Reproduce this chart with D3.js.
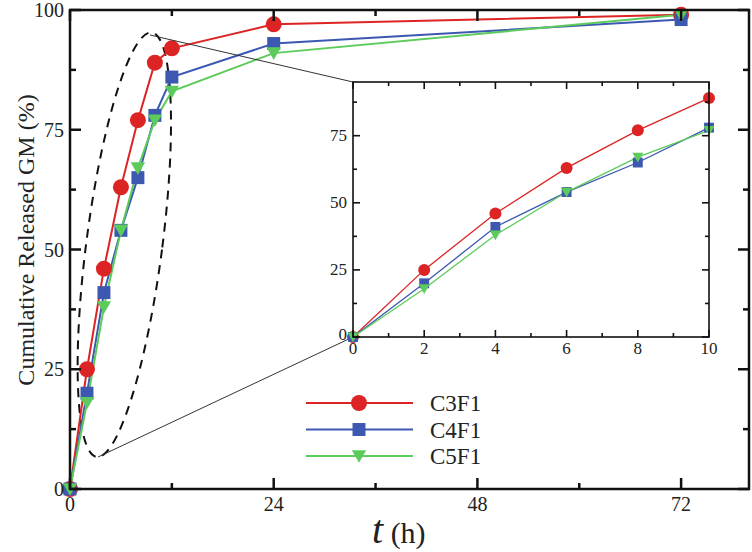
<!DOCTYPE html>
<html><head><meta charset="utf-8">
<script src="https://cdn.jsdelivr.net/npm/d3@7"></script>
<style>body{margin:0;background:#fff}svg{display:block}text{font-family:"Liberation Serif","Times New Roman",serif;fill:#222}</style>
</head><body>
<script>
const times = [0, 2, 4, 6, 8, 10, 12, 24, 72];
const c3f1 = [0, 25, 46, 63, 77, 89, 92, 97, 99];
const c4f1 = [0, 20, 41, 54, 65, 78, 86, 93, 98];
const c5f1 = [0, 18, 38, 54, 67, 77, 83, 91, 99];
const seriesNames = ["C3F1", "C4F1", "C5F1"];
const colors = ["#dd2424", "#3c58b0", "#5ccb5c"];
const symbols = ["circle", "square", "triangle"];
const xTicks = [0, 24, 48, 72];
const yTicks = [0, 25, 50, 75, 100];
const insetXTicks = [0, 2, 4, 6, 8, 10];
const insetYTicks = [0, 25, 50, 75];
// zoom ellipse annotation (data units)
const ellipseCenter = [6.4, 51];

const W = 752, H = 552;
const svg = d3.select("body").append("svg").attr("width", W).attr("height", H);

const m = {l: 70, r: 749, t: 10, b: 489};
const x = d3.scaleLinear().domain([0, 80]).range([m.l, m.r]);
const y = d3.scaleLinear().domain([0, 100]).range([m.b, m.t]);

const series = [c3f1, c4f1, c5f1].map((v, i) => ({name: seriesNames[i], color: colors[i], sym: symbols[i], vals: times.map((t, j) => [t, v[j]])}));

function marker(g, sym, cx, cy, s, color) {
  if (sym === "circle") g.append("circle").attr("cx", cx).attr("cy", cy).attr("r", s).attr("fill", color);
  else if (sym === "square") g.append("rect").attr("x", cx - s * 0.9).attr("y", cy - s * 0.9).attr("width", s * 1.8).attr("height", s * 1.8).attr("fill", color);
  else g.append("path").attr("d", `M${cx - s},${cy - s * 0.8} L${cx + s},${cy - s * 0.8} L${cx},${cy + s * 0.95} Z`).attr("fill", color);
}

// ellipse
const ecx = x(ellipseCenter[0]), ecy = y(ellipseCenter[1]);
svg.append("ellipse").attr("cx", 0).attr("cy", 0).attr("rx", 38).attr("ry", 214)
  .attr("transform", `translate(${ecx},${ecy}) rotate(7.4)`)
  .attr("fill", "none").attr("stroke", "#111").attr("stroke-width", 2).attr("stroke-dasharray", "9,7");

// main series
const line = d3.line().x(d => x(d[0])).y(d => y(d[1]));
series.forEach(s => {
  svg.append("path").attr("d", line(s.vals)).attr("fill", "none").attr("stroke", s.color).attr("stroke-width", 2);
});
series.forEach(s => {
  const g = svg.append("g");
  s.vals.forEach(d => marker(g, s.sym, x(d[0]), y(d[1]), s.sym === "circle" ? 8 : 7.2, s.color));
});

// axes frame
function frame(g, xs, ys, majX, minX, majY, minY, lenMaj, lenMin, sw) {
  const [x0, x1] = xs.range(), [y0, y1] = ys.range();
  g.append("rect").attr("x", x0).attr("y", y1).attr("width", x1 - x0).attr("height", y0 - y1)
    .attr("fill", "none").attr("stroke", "#111").attr("stroke-width", sw);
  const tk = (arr, len, isX) => arr.forEach(v => {
    if (isX) {
      const p = xs(v);
      g.append("line").attr("x1", p).attr("x2", p).attr("y1", y0).attr("y2", y0 - len).attr("stroke", "#111").attr("stroke-width", sw);
      g.append("line").attr("x1", p).attr("x2", p).attr("y1", y1).attr("y2", y1 + len).attr("stroke", "#111").attr("stroke-width", sw);
    } else {
      const p = ys(v);
      g.append("line").attr("y1", p).attr("y2", p).attr("x1", x0).attr("x2", x0 + len).attr("stroke", "#111").attr("stroke-width", sw);
      g.append("line").attr("y1", p).attr("y2", p).attr("x1", x1).attr("x2", x1 - len).attr("stroke", "#111").attr("stroke-width", sw);
    }
  });
  tk(majX, lenMaj, true); tk(minX, lenMin, true); tk(majY, lenMaj, false); tk(minY, lenMin, false);
}

frame(svg.append("g"), x, y, xTicks, [12, 36, 60], yTicks, [12.5, 37.5, 62.5, 87.5], 11, 6, 2.5);

svg.append("g").selectAll("text").data(xTicks).join("text")
  .attr("x", d => x(d)).attr("y", m.b + 22).attr("text-anchor", "middle").attr("font-size", 20).text(d => d);
svg.append("g").selectAll("text").data(yTicks).join("text")
  .attr("x", m.l - 6).attr("y", d => y(d) + 7).attr("text-anchor", "end").attr("font-size", 20).text(d => d);

svg.append("text").attr("transform", `translate(34,240) rotate(-90)`)
  .attr("text-anchor", "middle").attr("font-size", 24).text("Cumulative Released GM (%)");
const xt = svg.append("text").attr("x", 372).attr("y", 543).attr("text-anchor", "start");
xt.append("tspan").attr("font-style", "italic").attr("font-size", 40).text("t");
xt.append("tspan").attr("font-size", 30).text(" (h)");

// inset
const ix = d3.scaleLinear().domain([0, 10]).range([353, 709]);
const iy = d3.scaleLinear().domain([0, 95]).range([337, 82]);

// connector lines
svg.append("line").attr("x1", 150).attr("y1", 35).attr("x2", ix(0)).attr("y2", iy(95)).attr("stroke", "#333").attr("stroke-width", 1);
svg.append("line").attr("x1", 98).attr("y1", 457).attr("x2", ix(0)).attr("y2", iy(0)).attr("stroke", "#333").attr("stroke-width", 1);

svg.append("rect").attr("x", 353).attr("y", 82).attr("width", 356).attr("height", 255).attr("fill", "#fff");

const inset = svg.append("g");
const iline = d3.line().x(d => ix(d[0])).y(d => iy(d[1]));
series.forEach(s => {
  const v = s.vals.filter(d => d[0] <= 10);
  inset.append("path").attr("d", iline(v)).attr("fill", "none").attr("stroke", s.color).attr("stroke-width", 1.3);
});
series.forEach(s => {
  const g = inset.append("g");
  s.vals.filter(d => d[0] <= 10).forEach(d => marker(g, s.sym, ix(d[0]), iy(d[1]), s.sym === "circle" ? 6 : 5.5, s.color));
});
frame(inset, ix, iy, insetXTicks, [1, 3, 5, 7, 9], insetYTicks, [12.5, 37.5, 62.5, 87.5], 7, 4, 1.6);

inset.append("g").selectAll("text").data(insetXTicks).join("text")
  .attr("x", d => ix(d)).attr("y", 354).attr("text-anchor", "middle").attr("font-size", 17).text(d => d);
inset.append("g").selectAll("text").data(insetYTicks).join("text")
  .attr("x", 347).attr("y", d => iy(d) + (d === 0 ? 3 : 5)).attr("text-anchor", "end").attr("font-size", 17).text(d => d);

// legend
const lg = svg.append("g");
series.forEach((s, i) => {
  const yy = 403 + i * 26.5;
  lg.append("line").attr("x1", 306).attr("x2", 413).attr("y1", yy).attr("y2", yy).attr("stroke", s.color).attr("stroke-width", 2);
  marker(lg, s.sym, 359, yy, s.sym === "circle" ? 8 : 7.2, s.color);
  lg.append("text").attr("x", 430).attr("y", yy + 8).attr("font-size", 23).text(s.name);
});
</script>
</body></html>
